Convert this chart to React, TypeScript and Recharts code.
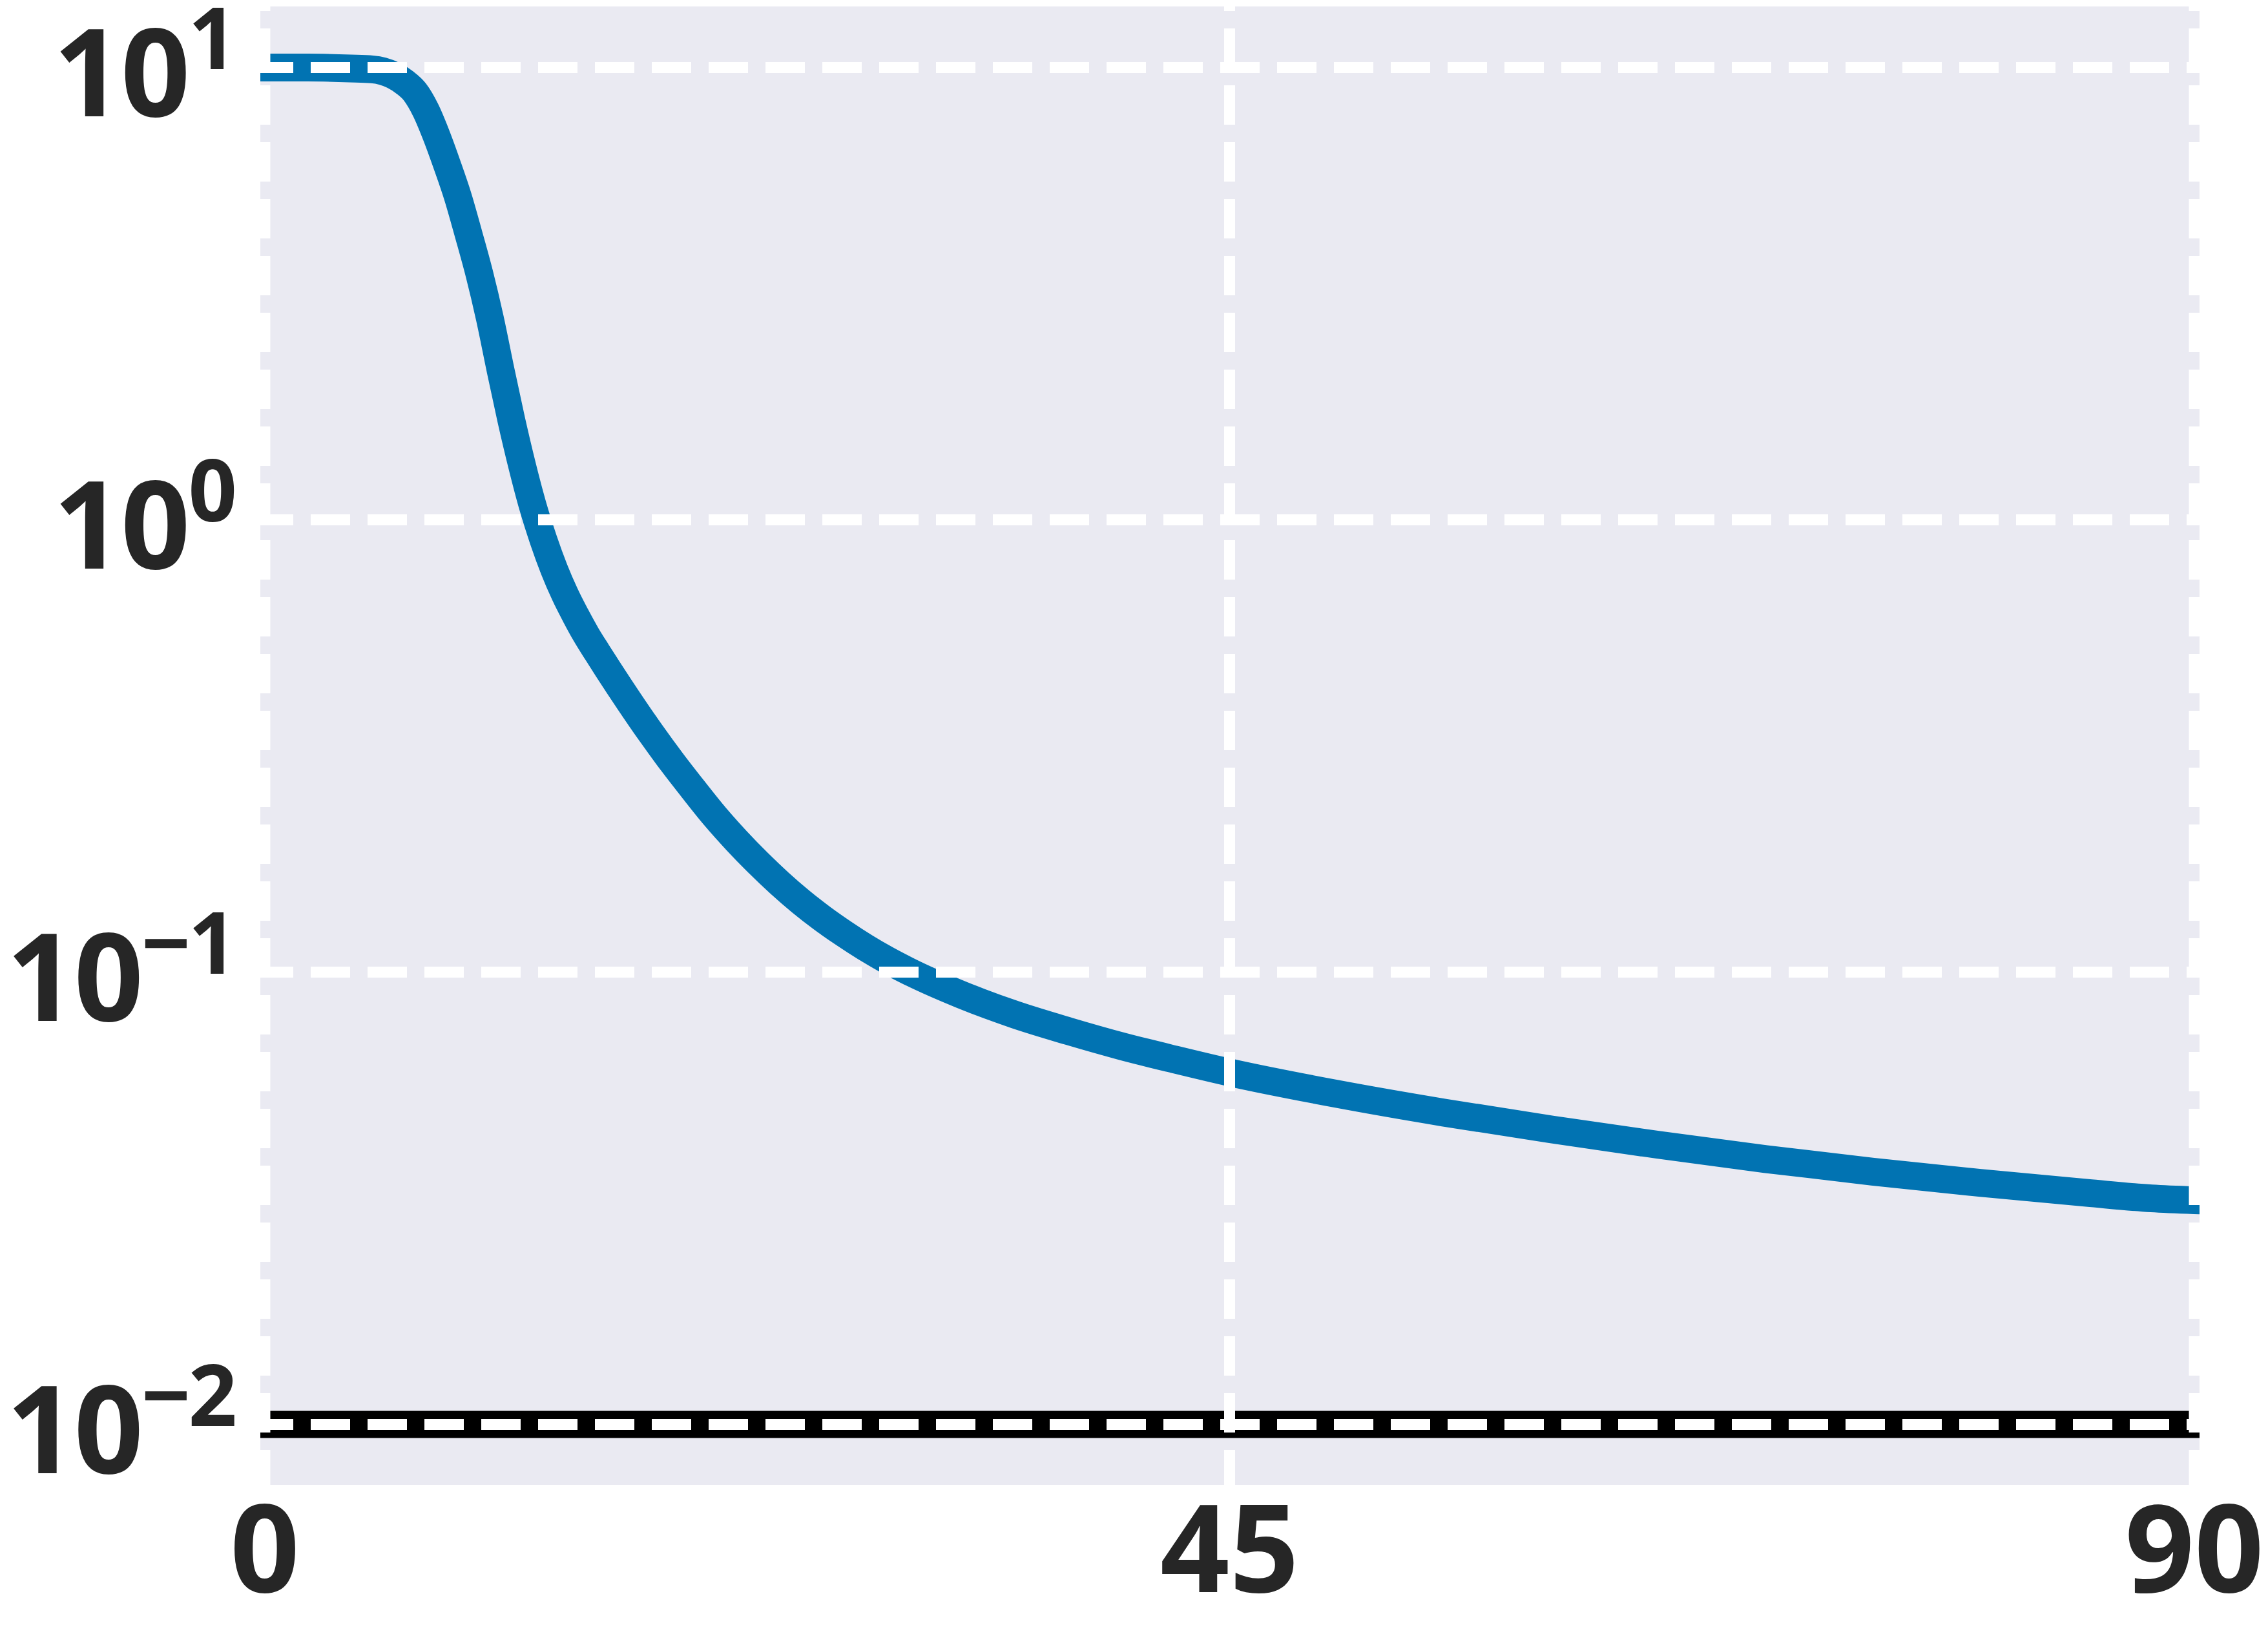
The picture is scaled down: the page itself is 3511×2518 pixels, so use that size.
import React from 'react';
import { LineChart, Line, XAxis, YAxis, ReferenceLine, CartesianGrid } from 'recharts';

// ---- data ----
const epochs = [0, 2, 4, 5, 5.5, 6, 6.5, 7, 7.5, 8, 8.5, 9, 9.5, 10, 10.5, 11, 11.5, 12, 12.5, 13, 13.5, 14, 14.5, 15, 15.5, 16, 17, 18, 19, 20, 21, 22, 23, 24, 25, 26, 27, 28, 29, 30, 32.5, 35, 37.5, 40, 42.5, 45, 50, 55, 60, 65, 70, 75, 80, 85, 88, 90];
const lossValues = [10, 10, 9.954, 9.908, 9.817, 9.616, 9.29, 8.831, 8.054, 7.079, 6.095, 5.188, 4.285, 3.508, 2.786, 2.138, 1.66, 1.318, 1.072, 0.9016, 0.7762, 0.6839, 0.6138, 0.5559, 0.5093, 0.4677, 0.3963, 0.3381, 0.2911, 0.2529, 0.2208, 0.1954, 0.1746, 0.1574, 0.1432, 0.1315, 0.1218, 0.1135, 0.1065, 0.1006, 0.0891, 0.0805, 0.074, 0.0685, 0.064, 0.06, 0.0538, 0.0489, 0.0449, 0.0415, 0.0386, 0.0362, 0.0342, 0.0325, 0.0316, 0.0313];
const baselineValue = 0.01;

const xTicks = [0, 45, 90];
const xTickLabels = ['0', '45', '90'];
const yTicks = [0.01, 0.1, 1, 10];
const yTickBase = '10';
const yTickExponents = ['\u22122', '\u22121', '0', '1'];

const xDomain = [-0.21, 90.24];
const yDomain = [0.00735, 13.65];

const data = epochs.map((x, i) => ({ x, loss: lossValues[i] }));

// ---- styles ----
const FONT = '"Open Sans", "Noto Sans", sans-serif';
const TEXT = '#262626';
const GRID_STYLE = { stroke: '#ffffff', strokeWidth: 17, strokeDasharray: '61 27' };

const YTick = (props: any) => {
  const { x, y, payload } = props;
  const idx = yTicks.indexOf(payload.value);
  const exp = idx >= 0 ? yTickExponents[idx] : '';
  return (
    <text x={x} y={y} textAnchor="end" fill={TEXT} fontFamily={FONT} fontWeight={700} letterSpacing={-3}>
      <tspan fontSize={188} dy={75.5}>{yTickBase}</tspan>
      <tspan fontSize={132} dy={-73}>{exp}</tspan>
    </text>
  );
};

const XTick = (props: any) => {
  const { x, y, payload } = props;
  const idx = xTicks.indexOf(payload.value);
  return (
    <text x={x} y={y} dy={134} textAnchor="middle" fill={TEXT} fontFamily={FONT} fontWeight={700} fontSize={188}>
      {idx >= 0 ? xTickLabels[idx] : payload.value}
    </text>
  );
};

export default function App() {
  return (
    <div style={{ position: 'absolute', left: 0, top: 0, width: 3511, height: 2518, background: '#ffffff' }}>
      <LineChart width={3511} height={2518} data={data} margin={{ top: 10, right: 106, bottom: 0, left: 0 }}>
        <CartesianGrid fill="#EAEAF2" fillOpacity={1} horizontal={false} vertical={false} stroke="none" />
        <XAxis
          dataKey="x"
          type="number"
          domain={xDomain}
          allowDataOverflow
          ticks={xTicks}
          interval={0}
          axisLine={false}
          tickLine={false}
          tickSize={0}
          tickMargin={32}
          height={220}
          tick={<XTick />}
        />
        <YAxis
          type="number"
          scale="log"
          domain={yDomain}
          allowDataOverflow
          ticks={yTicks}
          interval={0}
          axisLine={false}
          tickLine={false}
          tickSize={0}
          tickMargin={39}
          width={403}
          tick={<YTick />}
        />
        <Line
          dataKey="loss"
          type="monotone"
          stroke="#0173B2"
          strokeWidth={43}
          strokeLinecap="square"
          dot={false}
          activeDot={false}
          isAnimationActive={false}
        />
        <ReferenceLine y={baselineValue} stroke="#000000" strokeWidth={42} zIndex={450} />
        {yTicks.map((t) => (
          <ReferenceLine key={'gy' + t} y={t} {...GRID_STYLE} strokeDashoffset={10} zIndex={1000} />
        ))}
        {xTicks.map((t) => (
          <ReferenceLine key={'gx' + t} x={t} {...GRID_STYLE} strokeDashoffset={7} zIndex={1000} />
        ))}
      </LineChart>
    </div>
  );
}
